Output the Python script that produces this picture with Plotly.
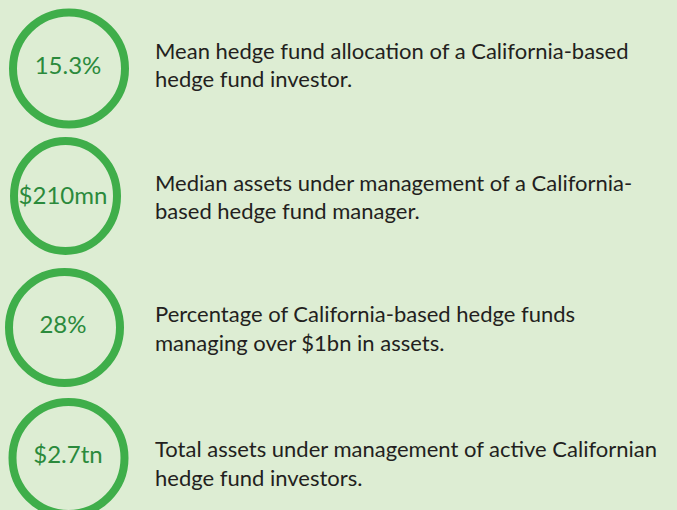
import plotly.graph_objects as go

# 数据
stat_values = ["15.3%", "$210mn", "28%", "$2.7tn"]
stat_lines = [
    ["Mean hedge fund allocation of a California-based", "hedge fund investor."],
    ["Median assets under management of a California-", "based hedge fund manager."],
    ["Percentage of California-based hedge funds", "managing over $1bn in assets."],
    ["Total assets under management of active Californian", "hedge fund investors."],
]

BG = "#ddedd3"
RING = "#3fae4a"
NUM = "#2b8a3c"
TXT = "#231f20"
FONT = "Lato, Open Sans, sans-serif"

# 圆圈位置（像素坐标）
circles = [(69, 68.5, 60, 60), (65.5, 196, 55.5, 59), (64.5, 327.5, 59.5, 59.5), (68.5, 458, 60, 60)]
num_pos = [(68, 68), (63, 198), (63, 327), (68, 457)]
line_y = [(50, 78), (182, 210), (313, 342), (448, 477)]
ring_w = 8

fig = go.Figure()

shapes = []
for cx, cy, rx, ry in circles:
    h = ring_w / 2
    shapes.append(dict(
        type="circle", xref="x", yref="y",
        x0=cx - rx + h, x1=cx + rx - h, y0=cy - ry + h, y1=cy + ry - h,
        line=dict(color=RING, width=ring_w), fillcolor=BG, layer="below"
    ))

# 圆内数字
fig.add_trace(go.Scatter(
    x=[p[0] for p in num_pos], y=[p[1] for p in num_pos],
    mode="text", text=stat_values,
    textfont=dict(family=FONT, size=24, color=NUM),
    textposition="middle center", hoverinfo="none"
))

# 说明文字
annotations = []
for lines, ys in zip(stat_lines, line_y):
    for line, y in zip(lines, ys):
        annotations.append(dict(
            x=153, y=y, xref="x", yref="y", text=line, showarrow=False,
            xanchor="left", yanchor="middle",
            font=dict(family=FONT, size=22, color=TXT)
        ))

fig.update_layout(
    width=677, height=510,
    showlegend=False,
    paper_bgcolor=BG, plot_bgcolor=BG,
    margin=dict(l=0, r=0, t=0, b=0),
    xaxis=dict(range=[0, 677], visible=False, fixedrange=True),
    yaxis=dict(range=[510, 0], visible=False, fixedrange=True),
    shapes=shapes, annotations=annotations
)

fig.write_html(
    "out.html",
    config=dict(displayModeBar=False),
    post_script="document.body.style.margin='0';document.body.style.overflow='hidden';"
)
